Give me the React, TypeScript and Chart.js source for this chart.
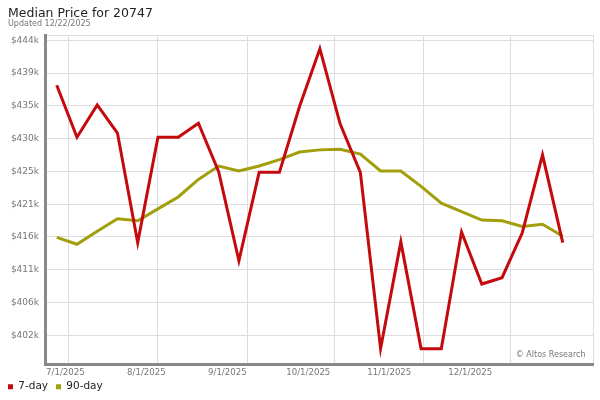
import React, { useEffect, useRef } from 'react';
import { Chart, registerables } from 'chart.js';

Chart.register(...registerables);

// ---- Data ----
const titleText = 'Median Price for 20747';
const subtitleText = 'Updated 12/22/2025';
const seriesNames = ['7-day', '90-day'];

const pointDates = [
  '2025-06-27', '2025-07-04', '2025-07-11', '2025-07-18', '2025-07-25',
  '2025-08-01', '2025-08-08', '2025-08-15', '2025-08-22', '2025-08-29',
  '2025-09-05', '2025-09-12', '2025-09-19', '2025-09-26', '2025-10-03',
  '2025-10-10', '2025-10-17', '2025-10-24', '2025-10-31', '2025-11-07',
  '2025-11-14', '2025-11-21', '2025-11-28', '2025-12-05', '2025-12-12',
  '2025-12-19',
];

const sevenDay = [
  437600, 430200, 434800, 430800, 415200,
  430200, 430200, 432200, 425300, 412600,
  425200, 425200, 434600, 442800, 432100,
  425200, 400100, 415300, 400100, 400100,
  416700, 409300, 410200, 416600, 427700,
  415200,
];

const ninetyDay = [
  415950, 414960, 416800, 418600, 418300,
  420000, 421700, 424200, 426100, 425400,
  426100, 427000, 428100, 428400, 428500,
  427800, 425400, 425400, 423200, 420800,
  419600, 418400, 418300, 417500, 417800,
  416100,
];

const gridDates = ['2025-07-01', '2025-08-01', '2025-09-01', '2025-10-01', '2025-11-01', '2025-12-01'];
const xTickDates = ['2025-06-30', '2025-07-28', '2025-08-25', '2025-09-22', '2025-10-20', '2025-11-17'];
const xTickLabels = ['7/1/2025', '8/1/2025', '9/1/2025', '10/1/2025', '11/1/2025', '12/1/2025'];

const yTickValues = [402000, 406667, 411333, 416000, 420667, 425333, 430000, 434667, 439333, 444000];
const yTickLabels = ['$402k', '$406k', '$411k', '$416k', '$421k', '$425k', '$430k', '$435k', '$439k', '$444k'];

const Y_MIN = 397914;
const Y_MAX = 444755;
const X_MIN = -8.06;
const X_MAX = 181.46;

// ---- Helpers ----
const DAY0 = Date.UTC(2025, 6, 1);
const toDay = (s: string) => {
  const [y, m, d] = s.split('-').map(Number);
  return (Date.UTC(y, m - 1, d) - DAY0) / 86400000;
};

const FONT = '"DejaVu Sans", Verdana, sans-serif';
const RED = '#c40a0c';
const OLIVE = '#a29e0c';

const watermark = {
  id: 'watermark',
  beforeDatasetsDraw(chart: any) {
    const { ctx, chartArea } = chart;
    ctx.save();
    ctx.font = '8px ' + FONT;
    ctx.fillStyle = '#777';
    ctx.textAlign = 'right';
    ctx.textBaseline = 'middle';
    ctx.fillText('\u00A9 Altos Research', chartArea.right - 7.5, chartArea.bottom - 9.5);
    ctx.restore();
  },
};

const layoutTweaks = {
  id: 'layoutTweaks',
  afterLayout(chart: any) {
    chart.boxes.forEach((b: any) => {
      if (b.options && typeof b.options.text === 'string' && b.position === 'top') {
        b.left += 8;
        b.right += 8;
      }
    });
    // let the tick labels of the label axis extend below its thin box (avoid clipping)
    if (chart.scales.xl) chart.scales.xl.bottom = chart.height;
  },
};

export default function App() {
  const ref = useRef<HTMLCanvasElement>(null);

  useEffect(() => {
    document.body.style.margin = '0';
    Chart.defaults.font.family = FONT;

    const chart = new Chart(ref.current as HTMLCanvasElement, {
      type: 'line',
      data: {
        datasets: [
          {
            label: seriesNames[0],
            data: pointDates.map((d, i) => ({ x: toDay(d), y: sevenDay[i] })),
            borderColor: RED,
            backgroundColor: RED,
            borderWidth: 3,
            pointRadius: 0,
            tension: 0,
            fill: false,
            xAxisID: 'x',
            yAxisID: 'y',
          },
          {
            label: seriesNames[1],
            data: pointDates.map((d, i) => ({ x: toDay(d), y: ninetyDay[i] })),
            borderColor: OLIVE,
            backgroundColor: OLIVE,
            borderWidth: 3,
            pointRadius: 0,
            tension: 0,
            fill: false,
            xAxisID: 'x',
            yAxisID: 'y',
          },
        ],
      },
      options: {
        responsive: false,
        animation: false,
        devicePixelRatio: 1,
        layout: { padding: { top: 0, left: 0, right: 7, bottom: -2 } },
        plugins: {
          tooltip: { enabled: false },
          title: {
            display: true,
            text: titleText,
            align: 'start',
            color: '#222',
            font: { size: 12.5, weight: 'normal', lineHeight: 1, family: FONT },
            padding: { top: 7.75, bottom: 0 },
          },
          subtitle: {
            display: true,
            text: subtitleText,
            align: 'start',
            color: '#777',
            font: { size: 8, lineHeight: 1, family: FONT },
            padding: { top: 0, bottom: 6.75 },
          },
          legend: {
            display: true,
            position: 'bottom',
            align: 'start',
            labels: {
              boxWidth: 5,
              boxHeight: 5,
              padding: 8,
              color: '#222',
              font: { size: 10.5, family: FONT },
              generateLabels: (c: any) =>
                (Chart.defaults.plugins.legend.labels.generateLabels as any)(c).map((l: any) => ({
                  ...l,
                  lineWidth: 0,
                })),
            },
          },
        },
        scales: {
          x: {
            type: 'linear',
            position: 'bottom',
            weight: 0,
            min: X_MIN,
            max: X_MAX,
            afterBuildTicks: (scale: any) => {
              scale.ticks = [...gridDates.map(toDay), X_MAX].map((v) => ({ value: v }));
            },
            afterFit: (scale: any) => {
              scale.height = 0;
            },
            grid: { color: '#dddddd', lineWidth: 1, drawTicks: false },
            border: { display: true, color: '#888888', width: 3 },
            ticks: { display: false },
          },
          xl: {
            type: 'linear',
            position: 'bottom',
            weight: 1,
            min: X_MIN,
            max: X_MAX,
            afterBuildTicks: (scale: any) => {
              scale.ticks = xTickDates.map(toDay).map((v) => ({ value: v }));
            },
            afterFit: (scale: any) => {
              scale.height = 9.5;
            },
            grid: { display: false, drawTicks: false },
            border: { display: false },
            ticks: {
              autoSkip: false,
              maxRotation: 0,
              minRotation: 0,
              padding: 3.5,
              color: '#777',
              font: { size: 8.6, family: FONT },
              callback: (_v: any, i: number) => xTickLabels[i] ?? '',
            },
          },
          y: {
            type: 'linear',
            position: 'left',
            min: Y_MIN,
            max: Y_MAX,
            afterBuildTicks: (scale: any) => {
              scale.ticks = [...yTickValues, Y_MAX].map((v) => ({ value: v }));
            },
            afterFit: (scale: any) => {
              scale.width = 45;
            },
            grid: { color: '#dddddd', lineWidth: 1, drawTicks: false },
            border: { display: true, color: '#888888', width: 3 },
            ticks: {
              padding: 6,
              color: '#777',
              font: { size: 9, family: FONT },
              callback: (_v: any, i: number) => yTickLabels[i] ?? '',
            },
          },
        },
      } as any,
      plugins: [watermark, layoutTweaks],
    });

    return () => chart.destroy();
  }, []);

  return (
    <canvas
      ref={ref}
      width={600}
      height={400}
      style={{ display: 'block', width: '600px', height: '400px' }}
    />
  );
}
